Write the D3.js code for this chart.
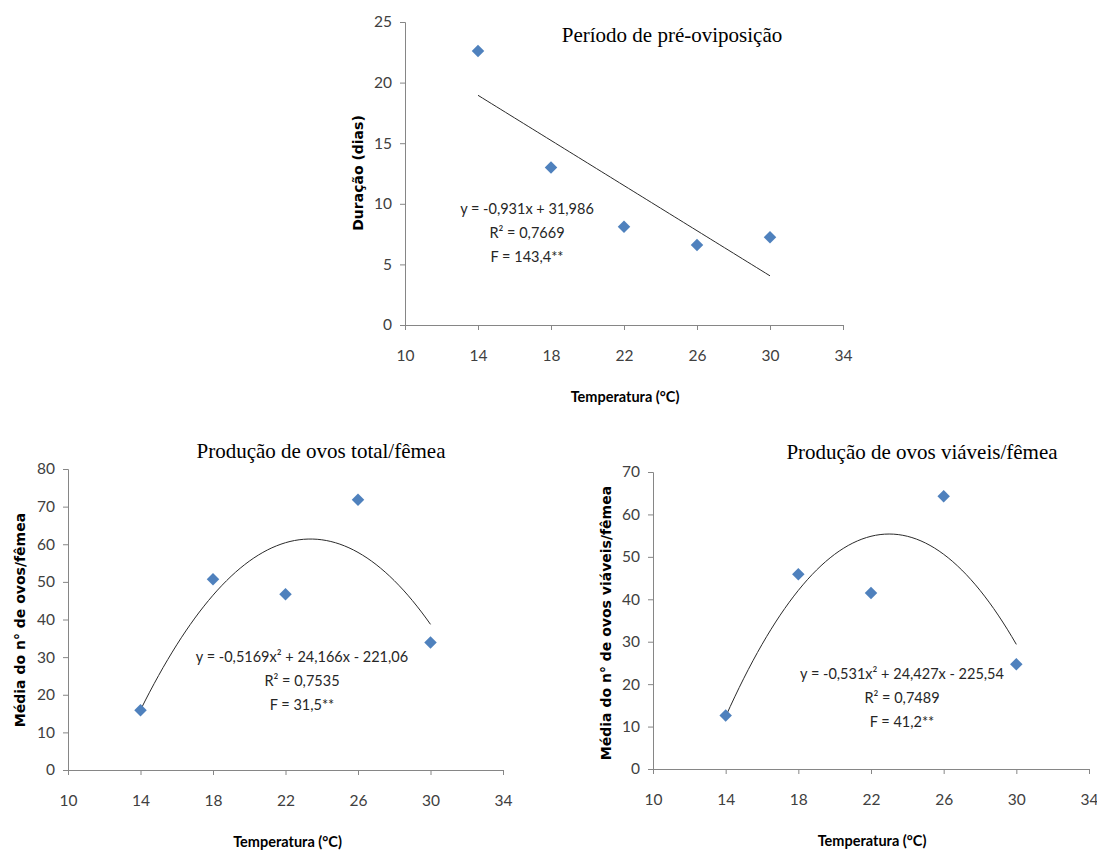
<!DOCTYPE html>
<html>
<head>
<meta charset="utf-8">
<script src="https://cdn.jsdelivr.net/npm/d3@7"></script>
<style>
  body { margin: 0; background: #fff; }
  svg { display: block; }
</style>
</head>
<body>
<svg id="chart" width="1097" height="850"></svg>
<script>
// temperatures tested (°C)
const temps = [14, 18, 22, 26, 30];
const xTicks = [10, 14, 18, 22, 26, 30, 34];

const preOviposicao = [22.6, 13.0, 8.1, 6.6, 7.25];
const ovosTotal = [15.9, 50.7, 46.7, 71.8, 33.9];
const ovosViaveis = [12.6, 45.9, 41.5, 64.3, 24.7];

// regression coefficients, c0 + c1*x + c2*x^2
const coefPre = [31.986, -0.931, 0];
const coefTotal = [-221.06, 24.166, -0.5169];
const coefViaveis = [-225.54, 24.427, -0.531];

// equation boxes
const eqPre = ["y = -0,931x + 31,986", "R² = 0,7669", "F = 143,4**"];
const eqTotal = ["y = -0,5169x² + 24,166x - 221,06", "R² = 0,7535", "F = 31,5**"];
const eqViaveis = ["y = -0,531x² + 24,427x - 225,54", "R² = 0,7489", "F = 41,2**"];

const svg = d3.select("#chart");
const axisColor = "#868686";
const markColor = "#4F81BD";
const tickFont = "Lato, 'Open Sans', sans-serif";

function panel(cfg) {
    const x = d3.scaleLinear().domain([10, 34]).range([cfg.left, cfg.right]);
    const y = d3.scaleLinear().domain([0, cfg.yMax]).range([cfg.bottom, cfg.top]);
    const g = svg.append("g");

    // y axis
    const ya = g.append("g")
        .attr("transform", `translate(${cfg.left},0)`)
        .call(d3.axisLeft(y).tickValues(d3.range(0, cfg.yMax + 1, cfg.yStep)).tickSize(5).tickPadding(8));
    // x axis
    const xa = g.append("g")
        .attr("transform", `translate(0,${cfg.bottom})`)
        .call(d3.axisBottom(x).tickValues(xTicks).tickSize(5).tickPadding(20));
    [ya, xa].forEach(a => {
        a.select(".domain").attr("stroke", axisColor);
        a.selectAll(".tick line").attr("stroke", axisColor);
        a.selectAll(".tick text")
            .attr("fill", "#404040")
            .style("font-family", tickFont)
            .style("font-size", "15.5px");
    });

    // trendline
    const f = t => cfg.coef[0] + cfg.coef[1] * t + cfg.coef[2] * t * t;
    const line = d3.line().x(t => x(t)).y(t => y(f(t)));
    g.append("path")
        .attr("d", line(d3.range(14, 30.001, 0.25)))
        .attr("fill", "none")
        .attr("stroke", "#2a2a2a")
        .attr("stroke-width", 1);

    // points
    g.append("g").selectAll("path")
        .data(temps.map((t, i) => [t, cfg.values[i]]))
        .join("path")
        .attr("transform", d => `translate(${x(d[0])},${y(d[1])}) rotate(45)`)
        .attr("d", d3.symbol(d3.symbolSquare, 78))
        .attr("fill", markColor);

    // title
    g.append("text")
        .attr("x", cfg.titleX).attr("y", cfg.titleY)
        .attr("text-anchor", "middle")
        .style("font-family", "'Liberation Serif', 'Times New Roman', serif")
        .style("font-size", "21px")
        .text(cfg.title);

    // equation
    g.append("g").selectAll("text")
        .data(cfg.eq)
        .join("text")
        .attr("x", cfg.eqX)
        .attr("y", (d, i) => cfg.eqY + i * 24)
        .attr("text-anchor", "middle")
        .attr("fill", "#262626")
        .style("font-family", tickFont)
        .style("font-size", "14.5px")
        .text(d => d);

    // axis titles
    g.append("text")
        .attr("x", (cfg.left + cfg.right) / 2 + cfg.xLabelDx)
        .attr("y", cfg.bottom + 77)
        .attr("text-anchor", "middle")
        .style("font-family", tickFont)
        .style("font-weight", "bold")
        .style("font-size", "14.5px")
        .text("Temperatura (°C)");
    g.append("text")
        .attr("transform", `translate(${cfg.yLabelX},${cfg.yLabelY}) rotate(-90)`)
        .attr("text-anchor", "middle")
        .style("font-family", "'DejaVu Sans', Verdana, sans-serif")
        .style("font-weight", "bold")
        .style("font-size", "14px")
        .text(cfg.yLabel);
}

panel({
    left: 405, right: 843, top: 22, bottom: 325, yMax: 25, yStep: 5,
    values: preOviposicao, coef: coefPre, eq: eqPre, eqX: 527, eqY: 214,
    title: "Período de pré-oviposição", titleX: 672, titleY: 42,
    yLabel: "Duração (dias)", yLabelX: 363, yLabelY: 173, xLabelDx: 1
});
panel({
    left: 68, right: 503, top: 469, bottom: 770, yMax: 80, yStep: 10,
    values: ovosTotal, coef: coefTotal, eq: eqTotal, eqX: 302, eqY: 662,
    title: "Produção de ovos total/fêmea", titleX: 321, titleY: 458,
    yLabel: "Média do n° de ovos/fêmea", yLabelX: 25, yLabelY: 620, xLabelDx: 2
});
panel({
    left: 653, right: 1089, top: 472, bottom: 769, yMax: 70, yStep: 10,
    values: ovosViaveis, coef: coefViaveis, eq: eqViaveis, eqX: 902, eqY: 679,
    title: "Produção de ovos viáveis/fêmea", titleX: 922, titleY: 459,
    yLabel: "Média do n° de ovos viáveis/fêmea", yLabelX: 611, yLabelY: 623, xLabelDx: 1
});
</script>
</body>
</html>
